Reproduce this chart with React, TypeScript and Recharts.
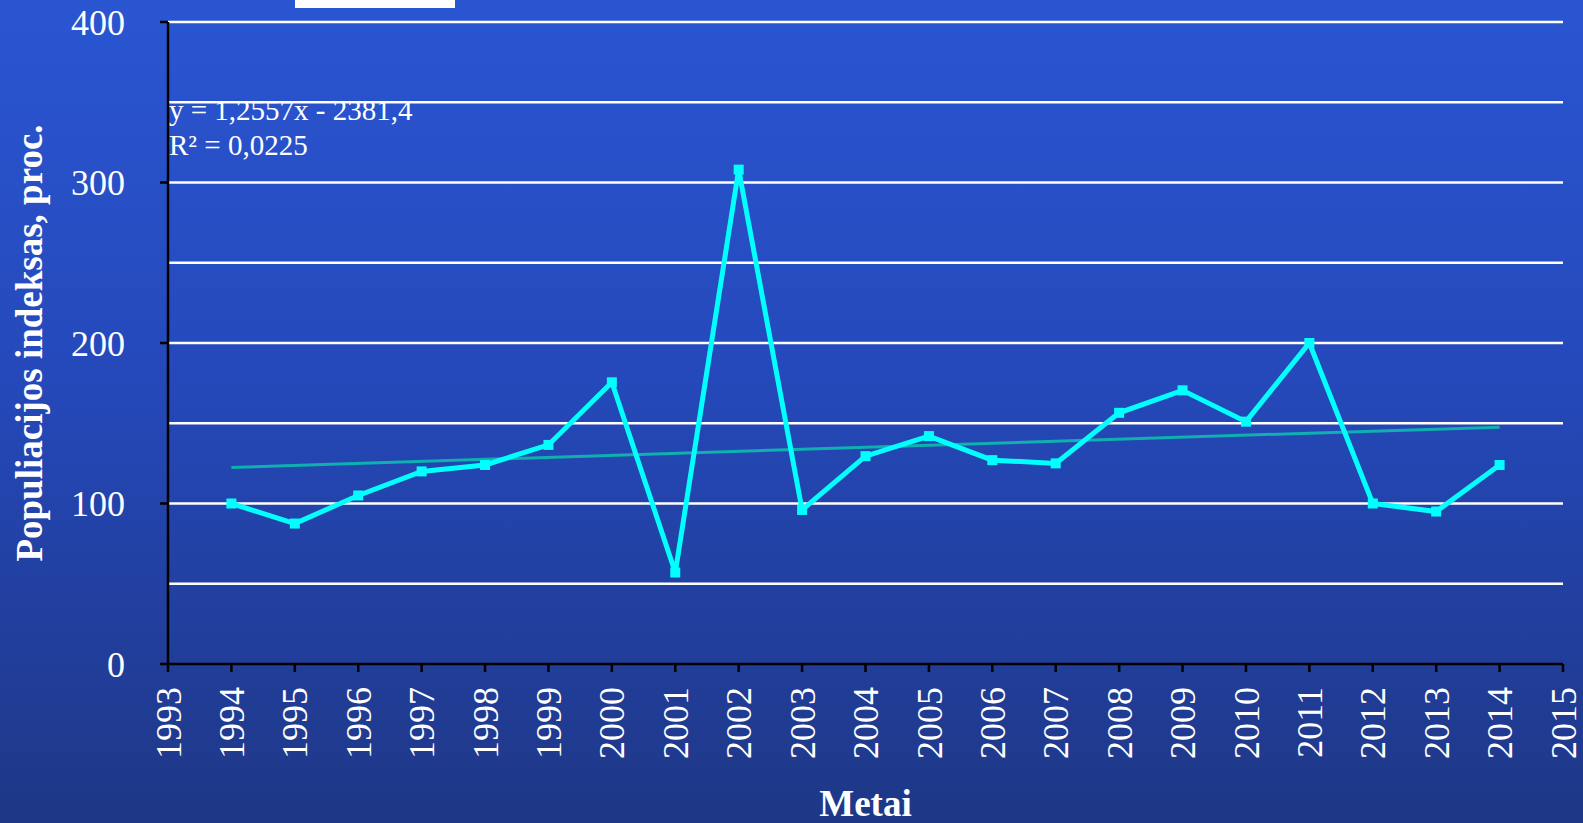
import { LineChart, Line, XAxis, YAxis, CartesianGrid } from "recharts";

const years = [1994, 1995, 1996, 1997, 1998, 1999, 2000, 2001, 2002, 2003, 2004, 2005, 2006, 2007, 2008, 2009, 2010, 2011, 2012, 2013, 2014];
const indexValues = [100, 87.5, 105, 120, 124, 136.5, 175.5, 57, 308, 96, 129.5, 142, 127, 125, 156.5, 170.5, 151, 200, 100, 95, 124];

const xTicks = [1993, 1994, 1995, 1996, 1997, 1998, 1999, 2000, 2001, 2002, 2003, 2004, 2005, 2006, 2007, 2008, 2009, 2010, 2011, 2012, 2013, 2014, 2015];
const yTicks = [0, 100, 200, 300, 400];
const gridValues = [50, 100, 150, 200, 250, 300, 350, 400];

// trendline as printed on the chart: y = 1,2557x - 2381,4
const trendSlope = 1.2557;
const trendIntercept = -2381.4;
const trendYears = [1994, 2014];

const data = years.map((year, i) => ({ year, value: indexValues[i] }));
const trendData = trendYears.map((year) => ({ year, trend: trendSlope * year + trendIntercept }));

const serif = '"Liberation Serif", "Times New Roman", serif';

const SquareDot = (props: any) => {
  const { cx, cy } = props;
  if (cx == null || cy == null) return null;
  return <rect x={cx - 5} y={cy - 5} width={10} height={10} fill="#00ffff" />;
};

const YearTick = (props: any) => {
  const { x, y, payload } = props;
  const ty = y + 13;
  return (
    <text
      x={x}
      y={ty}
      transform={`rotate(-90, ${x}, ${ty})`}
      textAnchor="end"
      dy="0.35em"
      fill="#ffffff"
      fontSize={36}
      fontFamily={serif}
    >
      {payload.value}
    </text>
  );
};

export default function App() {
  return (
    <div
      style={{
        position: "absolute",
        left: 0,
        top: 0,
        width: 1583,
        height: 823,
        background: "linear-gradient(to bottom, #2a56d2 0%, #2549bb 45%, #1e3786 100%)",
        overflow: "hidden",
      }}
    >
      <LineChart width={1583} height={823} data={data} margin={{ top: 22, right: 20, left: 0, bottom: 0 }}>
        <CartesianGrid vertical={false} horizontalValues={gridValues} stroke="#ffffff" strokeWidth={2.5} />
        <XAxis
          dataKey="year"
          type="number"
          domain={[1993, 2015]}
          ticks={xTicks}
          interval={0}
          height={159}
          tickSize={8}
          stroke="#000000"
          strokeWidth={2.5}
          tick={<YearTick />}
          label={(p: any) => {
            const vb = p.viewBox;
            return (
              <text x={vb.x + vb.width / 2} y={816} textAnchor="middle" fill="#ffffff" fontSize={37} fontWeight="bold" fontFamily={serif}>
                Metai
              </text>
            );
          }}
        />
        <YAxis
          type="number"
          domain={[0, 400]}
          ticks={yTicks}
          width={168}
          tickSize={8}
          tickMargin={35}
          stroke="#000000"
          strokeWidth={2.5}
          tick={{ fill: "#ffffff", fontSize: 36, fontFamily: serif }}
          label={(p: any) => {
            const vb = p.viewBox;
            const cx = 42;
            const cy = vb.y + vb.height / 2;
            return (
              <text x={cx} y={cy} transform={`rotate(-90, ${cx}, ${cy})`} textAnchor="middle" fill="#ffffff" fontSize={37} fontWeight="bold" fontFamily={serif}>
                Populiacijos indeksas, proc.
              </text>
            );
          }}
        />
        <Line
          data={trendData}
          dataKey="trend"
          type="linear"
          stroke="#0fb0b0"
          strokeWidth={3}
          dot={false}
          activeDot={false}
          isAnimationActive={false}
        />
        <Line
          dataKey="value"
          type="linear"
          stroke="#00ffff"
          strokeWidth={5}
          dot={<SquareDot />}
          activeDot={false}
          isAnimationActive={false}
        />
      </LineChart>
      <svg width={1583} height={823} style={{ position: "absolute", left: 0, top: 0, pointerEvents: "none" }}>
        <rect x={295} y={0} width={160} height={8} fill="#ffffff" />
        <text x={169} y={120} fill="#ffffff" fontSize={29} fontFamily={serif}>
          y = 1,2557x - 2381,4
        </text>
        <text x={169} y={155} fill="#ffffff" fontSize={29} fontFamily={serif}>
          R² = 0,0225
        </text>
      </svg>
    </div>
  );
}
